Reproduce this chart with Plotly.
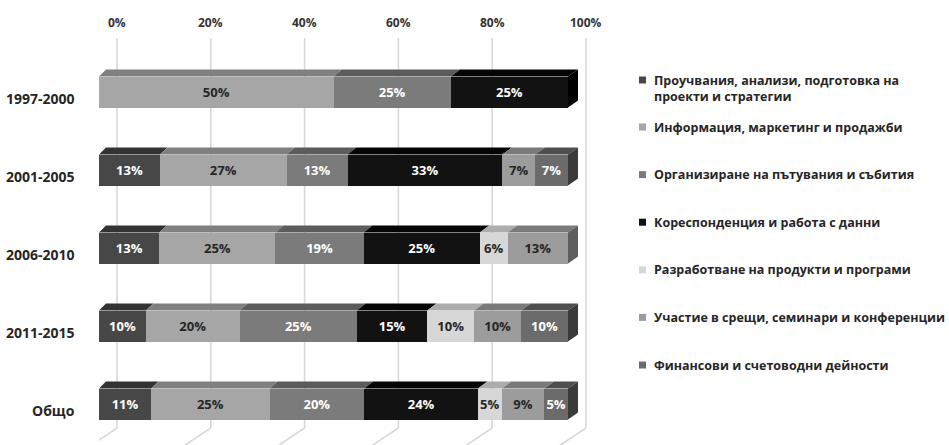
import numpy as np
import plotly.graph_objects as go

# ---- data -------------------------------------------------------------
categories = ["1997-2000", "2001-2005", "2006-2010", "2011-2015", "Общо"]

series_names = [
    "Проучвания, анализи, подготовка на<br>проекти и стратегии",
    "Информация, маркетинг и продажби",
    "Организиране на пътувания и събития",
    "Кореспонденция и работа с данни",
    "Разработване на продукти и програми",
    "Участие в срещи, семинари и конференции",
    "Финансови и счетоводни дейности",
]

proucvania = [0, 13, 13, 10, 11]
informacia = [50, 27, 25, 20, 25]
organizirane = [25, 13, 19, 25, 20]
korespondencia = [25, 33, 25, 15, 24]
razrabotvane = [0, 0, 6, 10, 5]
uchastie = [0, 7, 13, 10, 9]
finansovi = [0, 7, 0, 10, 5]

series_values = [proucvania, informacia, organizirane, korespondencia,
                 razrabotvane, uchastie, finansovi]

tick_values = [0, 20, 40, 60, 80, 100]

# ---- styling ----------------------------------------------------------
front_colors = ["#474747", "#a6a6a6", "#7b7b7b", "#121212", "#d7d7d7", "#9c9c9c", "#6b6b6b"]
top_colors = ["#333333", "#808080", "#5c5c5c", "#050505", "#adadad", "#7a7a7a", "#4e4e4e"]
side_colors = ["#2a2a2a", "#6a6a6a", "#4a4a4a", "#000000", "#8c8c8c", "#5e5e5e", "#3a3a3a"]
label_colors = ["white", "#262626", "white", "white", "#262626", "#262626", "white"]

FONT = "Open Sans"
W, H = 949, 445
BAR_X0_PX, BAR_X1_PX = 99, 568          # front face: 0% .. 100%
PLOT_RIGHT_PX = 625                     # room for the right-hand faces
ROW0_PX, ROW_STEP = 92, 78              # centre of first row, row pitch
BAR_H_PX = 31
DEPTH_DY_PX = 7
GRID_SHIFT_PX = 18                      # back wall offset of the gridlines
GRID_TOP_PX, GRID_BOTTOM_PX = 38, 428

px_per_x = (BAR_X1_PX - BAR_X0_PX) / 100.0
x_max = (PLOT_RIGHT_PX - BAR_X0_PX) / px_per_x
bar_w = BAR_H_PX / ROW_STEP
depth_dy = DEPTH_DY_PX / ROW_STEP


def depth_dx(x):
    # depth offset grows slightly to the right (perspective)
    return (7 + 3 * x / 100.0) / px_per_x


def py(p):
    return 1 - p / H


n_rows = len(categories)
ypos = list(range(n_rows))
top_px = ROW0_PX - ROW_STEP / 2
bottom_px = ROW0_PX + ROW_STEP * (n_rows - 0.5)

fig = go.Figure()

for name, vals, col, tcol in zip(series_names, series_values, front_colors, label_colors):
    fig.add_trace(go.Bar(
        y=ypos, x=vals, orientation="h", name=name,
        marker=dict(color=col, line=dict(width=0)),
        text=[f"{v}%" if v else "" for v in vals],
        textposition="inside", insidetextanchor="middle", textangle=0,
        constraintext="none",
        textfont=dict(family=FONT, size=13, color=tcol, weight="bold"),
        showlegend=False, hoverinfo="skip",
    ))

shapes = []

# back-wall gridlines with their floor continuation
for t in tick_values:
    shapes.append(dict(type="line", xref="x", xsizemode="pixel", xanchor=t,
                       x0=GRID_SHIFT_PX, x1=GRID_SHIFT_PX,
                       yref="paper", y0=py(GRID_BOTTOM_PX), y1=py(GRID_TOP_PX),
                       line=dict(color="#d9d9d9", width=1.6), layer="below"))
    shapes.append(dict(type="line", xref="x", xsizemode="pixel", xanchor=t,
                       x0=GRID_SHIFT_PX, x1=GRID_SHIFT_PX - 27,
                       yref="paper", y0=py(GRID_BOTTOM_PX), y1=py(H + 1),
                       line=dict(color="#d9d9d9", width=1.6), layer="below"))

# top and right faces of the 3-D bars
data = np.array(series_values, dtype=float)   # series x rows
for i in range(n_rows):
    col_vals = data[:, i]
    total = col_vals.sum()
    cum = np.concatenate([[0.0], np.cumsum(col_vals) / total * 100.0])
    yt = i - bar_w / 2
    yb = i + bar_w / 2
    last = None
    for j in range(len(series_values)):
        if col_vals[j] <= 0:
            continue
        last = j
        a, b = cum[j], cum[j + 1]
        path = (f"M {a},{yt} L {b},{yt} L {b + depth_dx(b)},{yt - depth_dy} "
                f"L {a + depth_dx(a)},{yt - depth_dy} Z")
        shapes.append(dict(type="path", path=path, xref="x", yref="y",
                           fillcolor=top_colors[j], line=dict(width=0), layer="above"))
    e = cum[-1]
    path = (f"M {e},{yt} L {e},{yb} L {e + depth_dx(e)},{yb - depth_dy} "
            f"L {e + depth_dx(e)},{yt - depth_dy} Z")
    shapes.append(dict(type="path", path=path, xref="x", yref="y",
                       fillcolor=side_colors[last], line=dict(width=0), layer="above"))

annotations = []

# percentage scale above the chart
for t in tick_values:
    annotations.append(dict(x=t, xref="x", xshift=GRID_SHIFT_PX, y=py(23), yref="paper",
                            text=f"{t}%", showarrow=False, xanchor="center", yanchor="middle",
                            font=dict(family=FONT, size=12, color="#333333", weight="bold")))

# category labels
for i, c in enumerate(categories):
    annotations.append(dict(x=77 / W, xref="paper", y=i, yref="y", yshift=-6,
                            text=c, showarrow=False, xanchor="right", yanchor="middle",
                            font=dict(family=FONT, size=14, color="#262626", weight="bold")))

# legend
LEG_SQ_X, LEG_TXT_X, LEG_SQ = 639, 652, 7
leg_centres = [89, 127]
for k in range(2, len(series_names)):
    leg_centres.append(127 + 47.6 * (k - 1))
for k, (name, col) in enumerate(zip(series_names, front_colors)):
    sq_c = leg_centres[k] - (9 if "<br>" in name else 0)
    shapes.append(dict(type="rect", xref="paper", yref="paper",
                       x0=LEG_SQ_X / W, x1=(LEG_SQ_X + LEG_SQ) / W,
                       y0=py(sq_c + LEG_SQ / 2), y1=py(sq_c - LEG_SQ / 2),
                       fillcolor=col, line=dict(width=0)))
    annotations.append(dict(x=LEG_TXT_X / W, xref="paper", y=py(leg_centres[k]), yref="paper",
                            text=name, showarrow=False, xanchor="left", yanchor="middle",
                            align="left",
                            font=dict(family=FONT, size=12.5, color="#262626", weight="bold")))

fig.update_layout(
    width=W, height=H,
    margin=dict(l=0, r=0, t=0, b=0),
    paper_bgcolor="white", plot_bgcolor="rgba(0,0,0,0)",
    barmode="stack", barnorm="percent", bargap=1 - bar_w,
    xaxis=dict(domain=[BAR_X0_PX / W, PLOT_RIGHT_PX / W], range=[0, x_max],
               visible=False, fixedrange=True),
    yaxis=dict(domain=[py(bottom_px), py(top_px)], range=[n_rows - 0.5, -0.5],
               visible=False, fixedrange=True),
    shapes=shapes, annotations=annotations,
    showlegend=False,
)

fig.write_html("out.html")
